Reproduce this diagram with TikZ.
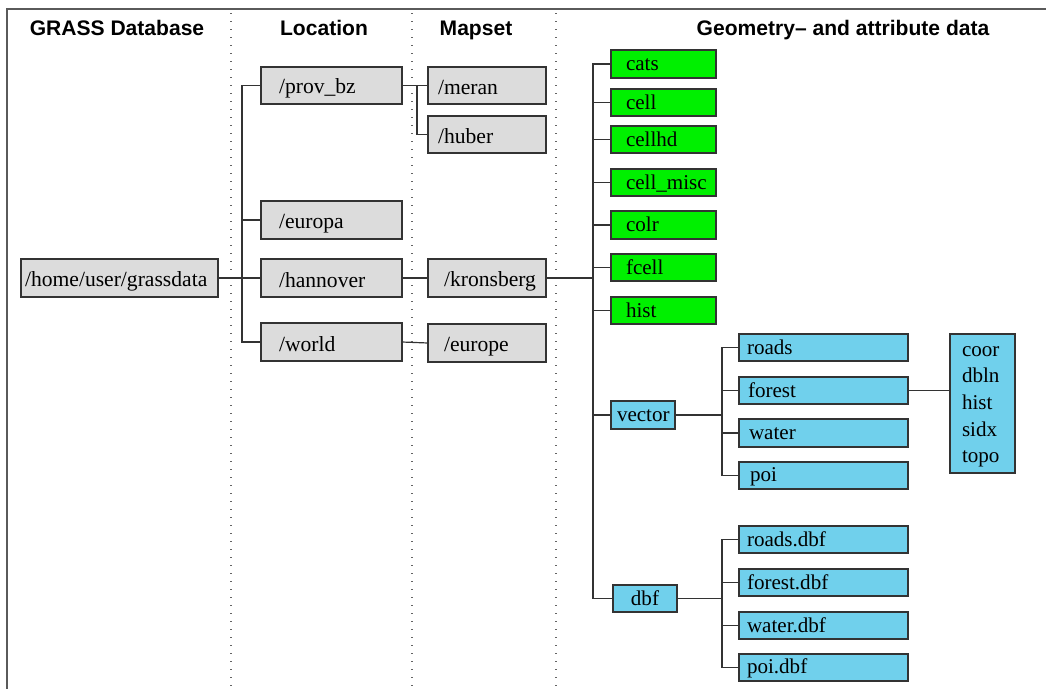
\documentclass[tikz,border=0pt]{standalone}
\usepackage{fontspec}
\setmainfont{Liberation Serif}
\newfontfamily\hdfont{Liberation Sans}
\definecolor{edge}{RGB}{51,51,51}
\definecolor{grayfill}{RGB}{220,220,220}
\definecolor{greenfill}{RGB}{0,240,0}
\definecolor{bluefill}{RGB}{112,208,236}
\definecolor{framecol}{RGB}{90,90,90}
\definecolor{dotcol}{RGB}{100,100,100}
\tikzset{
  box/.style={draw=edge, line width=0.9pt, outer sep=0pt, inner ysep=0pt, font=\fontsize{15.8}{19}\selectfont},
  graybox/.style={box, fill=grayfill, font=\fontsize{16.2}{19}\selectfont},
  greenbox/.style={box, fill=greenfill},
  bluebox/.style={box, fill=bluefill},
  link/.style={draw=edge, line width=0.9pt},
  sepline/.style={draw=dotcol, line width=1.1pt, dash pattern=on 1.1pt off 4.9pt},
  frameline/.style={draw=framecol, line width=1.4pt},
  header/.style={font=\hdfont\bfseries\fontsize{15.8}{19}\selectfont, anchor=base, inner sep=0pt},
}
\def\bxstrut{\strut}
% style, name, x1, y1, x2, y2, inset, text
\newcommand\bx[8]{%
  \pgfmathsetmacro\bxw{(#5-#3)*0.75}%
  \pgfmathsetmacro\bxh{(#6-#4)*0.75}%
  \pgfmathsetmacro\bxi{#7*0.75}%
  \pgfmathsetmacro\bxt{\bxw-2*\bxi}%
  \node[#1, minimum width=\bxw pt, minimum height=\bxh pt, text width=\bxt pt, inner xsep=\bxi pt] (#2) at ({(#3+#5)/2},{(#4+#6)/2}) {\bxstrut #8};}
\begin{document}
\begin{tikzpicture}[x=0.75pt,y=-0.75pt]
\useasboundingbox (0,0) rectangle (1046,689);
% frame
\draw[frameline] (7,689) -- (7,9) -- (1046,9);
% column separators
\draw[sepline] (231,13) -- (231,689);
\draw[sepline] (412,13) -- (412,689);
\draw[sepline] (556,13) -- (556,689);
% headers
\node[header] (h1) at (117,35) {GRASS Database};
\node[header] (h2) at (324,35) {Location};
\node[header] (h3) at (476,35) {Mapset};
\node[header] (h4) at (843,35) {Geometry– and attribute data};
% gray boxes: text sits lower
\def\bxstrut{\rule[-1.5pt]{0pt}{17pt}}
% database
\bx{graybox,align=left}{home}{21}{259}{218}{297}{4}{/home/user/grassdata}
% locations
\bx{graybox,align=left}{prov}{261}{67}{402}{104}{18}{/prov\_bz}
\bx{graybox,align=left}{europa}{261}{201}{402}{239}{18}{/europa}
\bx{graybox,align=left}{hannover}{261}{259}{402}{297}{18}{/hannover}
\bx{graybox,align=left}{world}{261}{323}{402}{361}{18}{/world}
% mapsets
\bx{graybox,align=left}{meran}{428}{67}{546}{104}{10}{/meran}
\bx{graybox,align=left}{huber}{428}{116}{546}{153}{10}{/huber}
\bx{graybox,align=left}{kron}{428}{259}{546}{297}{16}{/kronsberg}
\bx{graybox,align=left}{europe}{428}{324}{546}{362}{16}{/europe}
\def\bxstrut{\rule[-2.5pt]{0pt}{15pt}}
% raster elements
\bx{greenbox,align=left}{cats}{611}{50}{716}{78}{15}{cats}
\bx{greenbox,align=left}{cell}{611}{89}{716}{116}{15}{cell}
\bx{greenbox,align=left}{cellhd}{611}{126}{716}{153}{15}{cellhd}
\bx{greenbox,align=left}{cellmisc}{611}{169}{716}{196}{15}{cell\_misc}
\bx{greenbox,align=left}{colr}{611}{211}{716}{239}{15}{colr}
\bx{greenbox,align=left}{fcell}{611}{254}{716}{281}{15}{fcell}
\bx{greenbox,align=left}{hist}{611}{297}{716}{324}{15}{hist}
% vector elements
\bx{bluebox,align=left}{vector}{611}{401}{675}{429}{6}{vector}
\bx{bluebox,align=center}{dbf}{613}{585}{677}{612}{4}{dbf}
\bx{bluebox,align=left}{roads}{739}{334}{908}{361}{8}{roads}
\bx{bluebox,align=left}{forest}{739}{377}{908}{404}{9}{forest}
\bx{bluebox,align=left}{water}{739}{419}{908}{447}{10}{water}
\bx{bluebox,align=left}{poi}{739}{462}{908}{489}{11}{poi}
\bx{bluebox,align=left}{roadsdbf}{739}{526}{908}{553}{8}{roads.dbf}
\bx{bluebox,align=left}{forestdbf}{739}{569}{908}{596}{8}{forest.dbf}
\bx{bluebox,align=left}{waterdbf}{739}{612}{908}{639}{8}{water.dbf}
\bx{bluebox,align=left}{poidbf}{739}{654}{908}{681}{8}{poi.dbf}
\node[bluebox, minimum width=48.75pt, minimum height=104.25pt, text width=30.75pt, inner xsep=9pt, align=left, font=\fontsize{15.8}{20}\selectfont] (coor) at (982.5,403.5) {\rule{0pt}{14pt}coor\\dbln\\hist\\sidx\\topo\rule[-5pt]{0pt}{5pt}};
% bus coordinates
\path (home.east) ++(24,0) coordinate (b1);
\path (prov.east) ++(15,0) coordinate (b2);
\path (kron.east) ++(47,0) coordinate (b3);
\path (vector.east) ++(47,0) coordinate (b4);
\path (dbf.east) ++(45,0) coordinate (b5);
% connectors
\draw[link] (home.east) -- (b1);
\foreach \n in {prov,europa,hannover,world} \draw[link] (b1) |- (\n.west);
\draw[link] (prov.east) -- (meran.west);
\draw[link] (b2) |- (huber.west);
\draw[link] (hannover.east) -- (kron.west);
\draw[link] (world.east) -- (europe.west);
\draw[link] (kron.east) -- (b3);
\foreach \n in {cats,cell,cellhd,cellmisc,colr,fcell,hist,vector,dbf} \draw[link] (b3) |- (\n.west);
\draw[link] (vector.east) -- (b4);
\foreach \n in {roads,forest,water,poi} \draw[link] (b4) |- (\n.west);
\draw[link] (dbf.east) -- (b5);
\foreach \n in {roadsdbf,forestdbf,waterdbf,poidbf} \draw[link] (b5) |- (\n.west);
\draw[link] (forest.east) -- (forest.east -| coor.west);
\end{tikzpicture}
\end{document}
